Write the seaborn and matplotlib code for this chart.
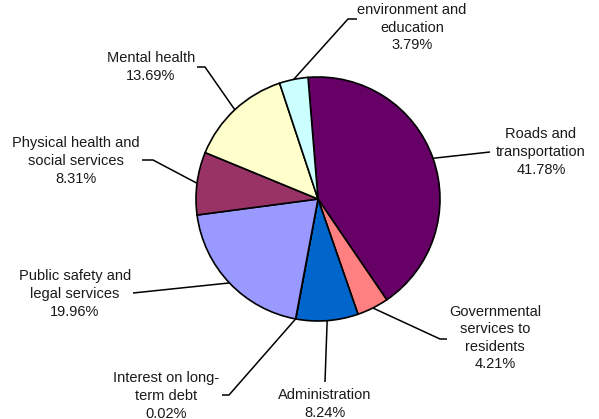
import numpy as np
import matplotlib
matplotlib.use("Agg")
import matplotlib.pyplot as plt
import seaborn as sns

categories = [
    "Roads and\ntransportation",
    "Governmental\nservices to\nresidents",
    "Administration",
    "Interest on long-\nterm debt",
    "Public safety and\nlegal services",
    "Physical health and\nsocial services",
    "Mental health",
    "Natural resources,\nenvironment and\neducation",
]
shares = [41.78, 4.21, 8.24, 0.02, 19.96, 8.31, 13.69, 3.79]
colors = ["#660066", "#FF8080", "#0066CC", "#CCCCFF",
          "#9999FF", "#993366", "#FFFFCC", "#CCFFFF"]

# label centres and leader elbows, in pixels of the 599x419 figure
label_px = [(541, 152), (495, 338), (325, 404), (166, 396),
            (75, 294), (76, 161), (151, 67), (412, 19)]
elbow_px = [[(490, 152)], [(440, 339), (447, 339)], [(325, 382)],
            [(229, 395), (222, 395)], [(133, 293)],
            [(153, 160), (142, 160)], [(205, 67), (197, 67)],
            [(348, 19), (357, 19)]]

sns.set_theme(style="white")
plt.rcParams["font.family"] = ["Liberation Sans", "DejaVu Sans"]

cx, cy, r = 318, 199, 122
W, H = 599, 419


def to_data(p):
    return ((p[0] - cx) / r, (cy - p[1]) / r)


fig = plt.figure(figsize=(5.99, 4.19), dpi=100)
ax = fig.add_axes([0, 0, 1, 1])

start = 94.7
wedges, _ = ax.pie(shares, colors=sns.color_palette(colors), startangle=start,
                   counterclock=False, radius=1, center=(0, 0),
                   wedgeprops=dict(edgecolor="black", linewidth=1.2))

ax.set_xlim(-cx / r, (W - cx) / r)
ax.set_ylim(-(H - cy) / r, cy / r)
ax.set_aspect("equal")
ax.axis("off")

cum = np.cumsum([0] + shares[:-1])
for i, (name, val) in enumerate(zip(categories, shares)):
    mid = np.deg2rad(start - (cum[i] + val / 2) * 3.6)
    pts = [(np.cos(mid), np.sin(mid))] + [to_data(p) for p in elbow_px[i]]
    xs, ys = zip(*pts)
    ax.plot(xs, ys, color="black", lw=1.1, solid_capstyle="butt")
    lx, ly = to_data(label_px[i])
    ax.text(lx, ly, f"{name}\n{val:.2f}%", ha="center", va="center",
            multialignment="center", fontsize=10.5, linespacing=1.32,
            color="#1a1a1a")

fig.savefig("out.png", dpi=100)
